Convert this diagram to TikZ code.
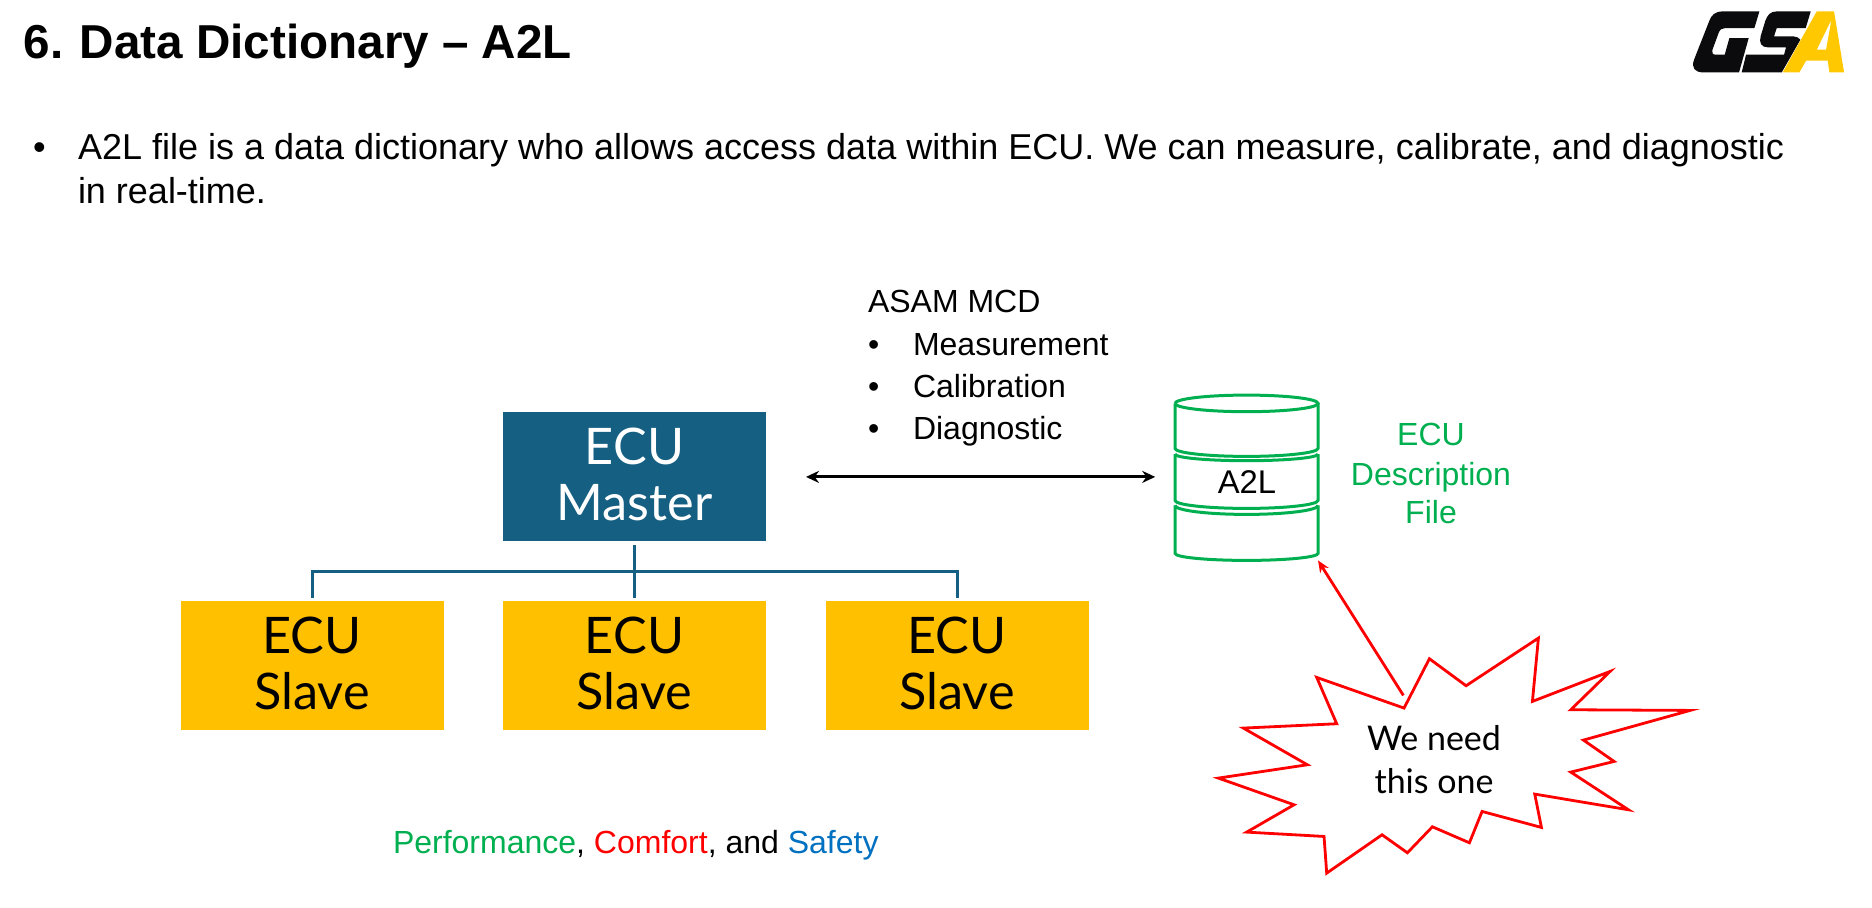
\documentclass[tikz,border=0pt]{standalone}
\usepackage{fontspec}
\usetikzlibrary{arrows.meta}
\setmainfont{Liberation Sans}
\newfontfamily\aptosish{Lato}
\definecolor{ecublue}{HTML}{156082}
\definecolor{ecugold}{HTML}{FFC000}
\definecolor{dgreen}{HTML}{00B050}
\definecolor{sblue}{HTML}{0070C0}
\definecolor{logoblack}{HTML}{0B0B0D}
\definecolor{logogold}{HTML}{FFC800}
\tikzset{
  x=0.5pt,y=-0.5pt,
  txt/.style={inner sep=0pt,outer sep=0pt,anchor=base west},
  ctxt/.style={inner sep=0pt,outer sep=0pt,anchor=base},
  body/.style={font=\fontsize{18}{22}\selectfont},
  small/.style={font=\fontsize{16}{20}\selectfont},
  ecubox/.style={rectangle,minimum width=131.5pt,minimum height=64.5pt,inner sep=0pt,outer sep=0pt,align=center,
    font=\aptosish\fontsize{25.2}{28}\selectfont,text depth=2.2pt},
  master/.style={ecubox,fill=ecublue,text=white},
  slave/.style={ecubox,fill=ecugold,text=black},
  tree/.style={draw=ecublue,line width=1.5pt},
  cylline/.style={draw=dgreen,line width=1.5pt},
}
\begin{document}
\begin{tikzpicture}
\useasboundingbox (0,0) rectangle (1872,908);
\fill[white] (0,0) rectangle (1872,908);
\begin{scope}[yshift=-0.7pt]
% title
\node[txt,font=\bfseries\fontsize{23.8}{28}\selectfont] (title) at (24,57) {6.\hspace{-0.7pt} Data Dictionary – A2L};
% bullet text
\node[txt,body] (b0) at (33,158) {•};
\node[txt,body] (intro) at (78,158) {A2L file is a data dictionary who allows access data within ECU. We can measure, calibrate, and diagnostic};
\node[txt,body] (intro2) at (78,202) {in real-time.};
% logo
\begin{scope}[shift={(1660,0)},x=0.1667pt,y=-0.1667pt]
  \fill[logoblack] (298,30) -- (190,30) .. controls (165,30) and (155,40) .. (148,58)
    -- (102,175) .. controls (93,200) and (105,213) .. (130,213) -- (237,213) -- (266,110) -- (208,110) -- (194,160)
    -- (168,160) .. controls (158,160) and (154,154) .. (157,146) -- (176,94) .. controls (180,84) and (186,80) .. (196,80) -- (283,80) -- cycle;
  \fill[logoblack] (452,30) -- (350,30) .. controls (330,30) and (322,42) .. (316,58)
    -- (302,104) .. controls (296,124) and (304,138) .. (324,138) -- (378,138) -- (372,160) -- (258,160) -- (245,213)
    -- (365,213) -- (421,115) .. controls (418,110) and (410,105) .. (400,105) -- (342,105) -- (350,80) -- (437,80) -- cycle;
  \fill[logogold,even odd rule] (470,30) -- (522,30) -- (552,213) -- (508,213) -- (503,178) -- (438,178) -- (418,213) -- (368,213) -- cycle
    (514,55) -- (470,145) -- (498,145) -- cycle;
\end{scope}
% boxes
\node[master] (m) at (634.5,475.5) {ECU\\Master};
\node[slave] (s1) at (312,664.5) {ECU\\Slave};
\node[slave] (s2) at (634.5,664.5) {ECU\\Slave};
\node[slave] (s3) at (957,664.5) {ECU\\Slave};
% tree
\draw[tree,shorten <=2pt,shorten >=1.5pt] (m.south) -- (s2.north);
\draw[tree,shorten <=1.5pt,shorten >=1.5pt] (s1.north) -- ++(0,-30) -| (s3.north);
% cylinder
\node[minimum width=71.5pt,minimum height=83.5pt,inner sep=0pt,outer sep=0pt] (cyl) at (1246.5,475.5) {};
\draw[cylline] (1175,402) arc[start angle=180,end angle=-180,x radius=35.75pt,y radius=4.15pt];
\draw[cylline] (1175,402) -- (1175,447) arc[start angle=180,end angle=360,x radius=35.75pt,y radius=4pt] -- (1318,402);
\draw[cylline] (1175,452.7) -- (1175,499) arc[start angle=180,end angle=360,x radius=35.75pt,y radius=4pt] -- (1318,452.7);
\draw[cylline] (1175,452.7) arc[start angle=180,end angle=360,x radius=35.75pt,y radius=3.3pt];
\draw[cylline] (1175,504) -- (1175,552) arc[start angle=180,end angle=360,x radius=35.75pt,y radius=3.5pt] -- (1318,504);
\draw[cylline] (1175,504) arc[start angle=180,end angle=360,x radius=35.75pt,y radius=4.5pt];
\node[ctxt,font=\fontsize{16.4}{20}\selectfont] (a2l) at (1247,492) {A2L};
% arrow
\draw[line width=1.4pt,{Stealth[length=6.5pt,width=6pt]}-{Stealth[length=6.5pt,width=6pt]},shorten <=20pt,shorten >=9.9pt] (m.east) -- (cyl.west);
% ASAM
\node[txt,small] (asam) at (868,311) {ASAM MCD};
\node[txt,small] (bm) at (868,354) {•};
\node[txt,small] (tm) at (913,354) {Measurement};
\node[txt,small] (bc) at (868,396) {•};
\node[txt,small] (tc) at (913,396) {Calibration};
\node[txt,small] (bd) at (868,438) {•};
\node[txt,small] (td) at (913,438) {Diagnostic};
% description
\node[ctxt,small,text=dgreen] (d1) at (1431,444) {ECU};
\node[ctxt,small,text=dgreen] (d2) at (1431,484) {Description};
\node[ctxt,small,text=dgreen] (d3) at (1431,522) {File};
% legend
\node[txt,small] (legend) at (393,852) {\textcolor{dgreen}{Performance}, \textcolor{red}{Comfort}, and \textcolor{sblue}{Safety}};
% star
\begin{scope}[shift={(1200,620)},x=0.1667pt,y=-0.1667pt]
  \draw[red,line width=1.4pt,miter limit=20] (350,168) -- (612,260) -- (688,112) -- (798,193) -- (1015,50) -- (997,240) -- (1230,150) -- (1112,265) -- (1470,267) -- (1150,356) -- (1242,420) -- (1112,452) -- (1285,565) -- (1004,518) -- (1024,618) -- (846,570) -- (808,664) -- (697,616) -- (622,694) -- (546,640) -- (380,755) -- (372,645) -- (140,632) -- (282,550) -- (55,470) -- (322,430) -- (130,320) -- (410,307) -- cycle;
  \coordinate (startop) at (610,222);
\end{scope}
\node[inner sep=0pt,outer sep=0pt,align=center,font=\aptosish\fontsize{17}{21.5}\selectfont] (need) at (1434,758.5) {We need\\this one};
\draw[red,line width=1.4pt,-{Stealth[length=6pt,width=5pt]}] (startop) -- (cyl.south east);
\end{scope}
\end{tikzpicture}
\end{document}
